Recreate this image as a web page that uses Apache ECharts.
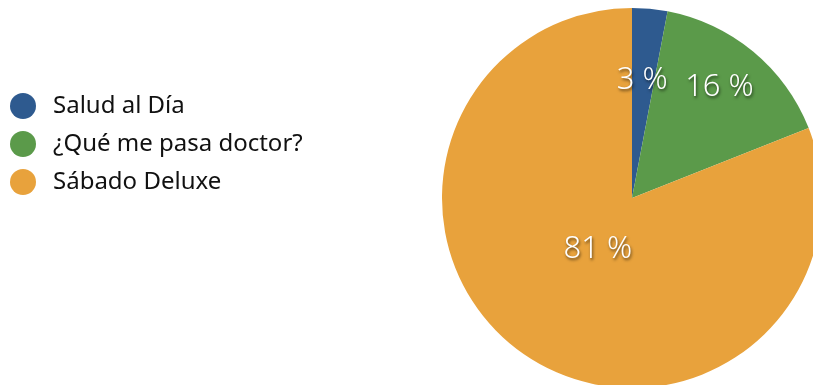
<!DOCTYPE html>
<html>
<head>
<meta charset="utf-8">
<script src="https://cdn.jsdelivr.net/npm/echarts@6/dist/echarts.min.js"></script>
<style>
  html, body { margin: 0; padding: 0; background: #fff; }
  #main { width: 813px; height: 385px; }
</style>
</head>
<body>
<div id="main"></div>
<script>
// data
var categories = ['Salud al Día', '¿Qué me pasa doctor?', 'Sábado Deluxe'];
var shares = [3, 16, 81];
var colors = ['#2e5a8f', '#5b9a4a', '#e8a23c'];
// nudge of each label away from the default inside spot
var labelShift = [[1, -20], [25, -35], [21, -30]];

var chart = echarts.init(document.getElementById('main'), null, { renderer: 'canvas' });

chart.setOption({
  animation: false,
  color: colors,
  legend: {
    orient: 'vertical',
    left: 5,
    top: 88,
    icon: 'circle',
    itemWidth: 26,
    itemHeight: 26,
    itemGap: 12,
    data: categories,
    textStyle: { fontFamily: 'Noto Sans', fontSize: 24, color: '#111', padding: [0, 0, 0, 12] }
  },
  series: [{
    type: 'pie',
    center: [632, 198],
    radius: [0, 190],
    startAngle: 90,
    clockwise: true,
    silent: true,
    label: {
      show: true,
      position: 'inside',
      formatter: '{c} %',
      fontFamily: 'Noto Sans',
      fontWeight: 300,
      fontSize: 31,
      color: '#fff',
      textShadowColor: 'rgba(0,0,0,0.6)',
      textShadowBlur: 3,
      textShadowOffsetX: 1,
      textShadowOffsetY: 2
    },
    labelLayout: function (params) {
      var s = labelShift[params.dataIndex];
      return { dx: s[0], dy: s[1] };
    },
    labelLine: { show: false },
    data: categories.map(function (name, i) {
      return { name: name, value: shares[i] };
    })
  }]
});
</script>
</body>
</html>
